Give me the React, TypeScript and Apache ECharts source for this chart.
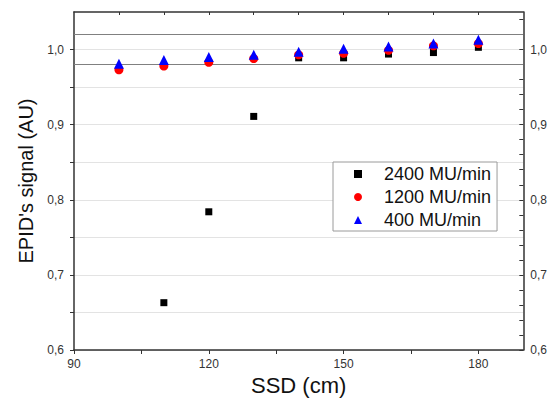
import React, { useEffect, useRef } from "react";
import * as echarts from "echarts";

const ssd = [100, 110, 120, 130, 140, 150, 160, 170, 180];
const s2400: (number | null)[] = [null, 0.663, 0.784, 0.911, 0.989, 0.989, 0.994, 0.996, 1.003];
const s1200 = [0.973, 0.978, 0.983, 0.988, 0.993, 0.995, 0.999, 1.005, 1.008];
const s400 = [0.981, 0.986, 0.990, 0.993, 0.997, 1.001, 1.004, 1.008, 1.013];
const seriesNames = ["2400 MU/min", "1200 MU/min", "400 MU/min"];
const refLines = [0.98, 1.02];
const xMajor = [90, 120, 150, 180];
const xTicks = [90, 105, 120, 135, 150, 165, 180];
const xTopTicks = [100, 110, 120, 130, 140, 150, 160, 170, 180];
const yLabels = [0.6, 0.7, 0.8, 0.9, 1.0];
const yLeftTicks = [0.6, 0.65, 0.7, 0.75, 0.8, 0.85, 0.9, 0.95, 1.0];
const yRightTicks = [0.6, 0.62, 0.64, 0.66, 0.68, 0.7, 0.72, 0.74, 0.76, 0.78, 0.8, 0.82, 0.84, 0.86, 0.88, 0.9, 0.92, 0.94, 0.96, 0.98, 1.0, 1.02, 1.04];

const FONT = "Liberation Sans, Arial, sans-serif";

export default function App() {
  const ref = useRef<HTMLDivElement>(null);
  useEffect(() => {
    if (!ref.current) return;
    const chart = echarts.init(ref.current, null, { renderer: "svg" });
    const pairs = (arr: (number | null)[]) =>
      ssd.map((x, i) => [x, arr[i]]).filter((p) => p[1] !== null);
    const axisLine = { show: true, lineStyle: { color: "#333", width: 1.5 } };
    const fmt = (v: number) => v.toFixed(1).replace(".", ",");
    chart.setOption({
      animation: false,
      backgroundColor: "#fff",
      textStyle: { fontFamily: FONT },
      grid: { left: 74, right: 25, top: 12, bottom: 54, containLabel: false },
      legend: {
        orient: "vertical",
        left: 333,
        top: 162,
        itemWidth: 8,
        itemHeight: 8,
        itemGap: 5,
        padding: [3, 6, 2, 21],
        backgroundColor: "#fff",
        borderColor: "#9a9a9a",
        borderWidth: 1,
        selectedMode: false,
        itemStyle: { opacity: 1 },
        data: [
          { name: seriesNames[0], icon: "rect" },
          { name: seriesNames[1], icon: "circle" },
          { name: seriesNames[2], icon: "triangle" },
        ],
        textStyle: { fontSize: 18, color: "#111", fontFamily: FONT, padding: [0, 0, 0, 17] },
      },
      xAxis: [
        {
          type: "value",
          position: "bottom",
          min: 90,
          max: 190,
          interval: 30,
          axisLine,
          axisTick: { show: true, inside: false, length: 4, customValues: xTicks, lineStyle: { color: "#333" } },
          axisLabel: { customValues: xMajor, fontSize: 12, color: "#333", margin: 8, fontFamily: FONT },
          splitLine: { show: false },
          name: "SSD (cm)",
          nameLocation: "middle",
          nameGap: 22,
          nameTextStyle: { fontSize: 22, color: "#111", fontFamily: FONT },
        },
        {
          type: "value",
          position: "top",
          min: 90,
          max: 190,
          interval: 10,
          axisLine,
          axisTick: { show: true, inside: true, length: 3, customValues: xTopTicks, lineStyle: { color: "#333" } },
          axisLabel: { show: false },
          splitLine: { show: false },
        },
      ],
      yAxis: [
        {
          type: "value",
          position: "left",
          min: 0.6,
          max: 1.05,
          interval: 0.1,
          axisLine,
          axisTick: { show: true, inside: false, length: 4, customValues: yLeftTicks, lineStyle: { color: "#333" } },
          axisLabel: { customValues: yLabels, fontSize: 12, color: "#333", margin: 10, formatter: fmt, fontFamily: FONT },
          splitLine: { show: true, lineStyle: { color: "#e3e3e3", width: 1 } },
          name: "EPID's signal (AU)",
          nameLocation: "middle",
          nameGap: 37,
          nameTextStyle: { fontSize: 20, color: "#111", fontFamily: FONT },
        },
        {
          type: "value",
          position: "right",
          min: 0.6,
          max: 1.05,
          interval: 0.1,
          axisLine,
          axisTick: { show: true, inside: true, length: 4, customValues: yRightTicks, lineStyle: { color: "#333" } },
          axisLabel: { customValues: yLabels, fontSize: 12, color: "#333", margin: 7, formatter: fmt, fontFamily: FONT },
          splitLine: { show: false },
        },
      ],
      series: [
        {
          name: seriesNames[0],
          type: "scatter",
          symbol: "rect",
          symbolSize: 7,
          itemStyle: { color: "#000", opacity: 1 },
          data: pairs(s2400),
          z: 2,
          markLine: {
            silent: true,
            symbol: "none",
            label: { show: false },
            lineStyle: { color: "#808080", type: "solid", width: 1 },
            data: refLines.map((v) => ({ yAxis: v })),
            z: 1,
          },
        },
        {
          name: seriesNames[1],
          type: "scatter",
          symbol: "circle",
          symbolSize: 9,
          itemStyle: { color: "#ff0000", opacity: 1 },
          data: pairs(s1200),
          z: 3,
        },
        {
          name: seriesNames[2],
          type: "scatter",
          symbol: "triangle",
          symbolSize: 10,
          itemStyle: { color: "#0000ff", opacity: 1 },
          data: pairs(s400),
          z: 4,
        },
      ],
    });
    return () => chart.dispose();
  }, []);
  return <div ref={ref} style={{ width: 550, height: 404, position: "absolute", left: 0, top: 0 }} />;
}
